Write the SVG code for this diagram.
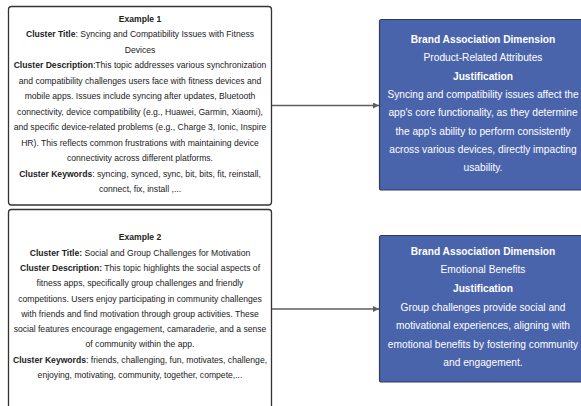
<svg xmlns="http://www.w3.org/2000/svg" width="581" height="406" viewBox="0 0 581 406">
  <style>
    .card { fill: #ffffff; stroke: #333333; stroke-width: 1.3; }
    .dim { fill: #4a64ac; stroke: #2e3b63; stroke-width: 1.2; }
    .t { font-family: "Liberation Sans", Arial, sans-serif; font-size: 8.6px; fill: #222222; text-anchor: middle; }
    .w { font-family: "Liberation Sans", Arial, sans-serif; font-size: 10.2px; fill: #ffffff; text-anchor: middle; }
    .b { font-weight: bold; }
    .link { stroke: #5e5e5e; stroke-width: 1.3; fill: none; }
  </style>
  <defs>
    <marker id="arrow" markerWidth="8" markerHeight="8" refX="6" refY="3" orient="auto" markerUnits="userSpaceOnUse">
      <path d="M0,0 L6,3 L0,6 Z" fill="#5e5e5e"/>
    </marker>
  </defs>

  <g id="connectors">
    <line class="link" x1="272" y1="105.5" x2="379" y2="105.5" marker-end="url(#arrow)"/>
    <line class="link" x1="272" y1="309" x2="379" y2="309" marker-end="url(#arrow)"/>
  </g>

  <g id="example1">
    <rect class="card" x="8.5" y="6.5" width="263" height="198.5" rx="3"/>
    <text class="t b" x="140" y="22">Example 1</text>
    <text class="t" x="140" y="37.45"><tspan class="b">Cluster Title</tspan>: Syncing and Compatibility Issues with Fitness</text>
    <text class="t" x="140" y="52.9">Devices</text>
    <text class="t" x="140" y="68.35"><tspan class="b">Cluster Description</tspan>:This topic addresses various synchronization</text>
    <text class="t" x="140" y="83.8">and compatibility challenges users face with fitness devices and</text>
    <text class="t" x="140" y="99.25">mobile apps. Issues include syncing after updates, Bluetooth</text>
    <text class="t" x="140" y="114.7">connectivity, device compatibility (e.g., Huawei, Garmin, Xiaomi),</text>
    <text class="t" x="140" y="130.15">and specific device-related problems (e.g., Charge 3, Ionic, Inspire</text>
    <text class="t" x="140" y="145.6">HR). This reflects common frustrations with maintaining device</text>
    <text class="t" x="140" y="161.05">connectivity across different platforms.</text>
    <text class="t" x="140" y="176.5"><tspan class="b">Cluster Keywords</tspan>: syncing, synced, sync, bit, bits, fit, reinstall,</text>
    <text class="t" x="140" y="191.95">connect, fix, install ,...</text>
  </g>

  <g id="example2">
    <rect class="card" x="8.5" y="209.5" width="263" height="210" rx="3"/>
    <text class="t b" x="140" y="240.3">Example 2</text>
    <text class="t" x="140" y="255.6"><tspan class="b">Cluster Title:</tspan> Social and Group Challenges for Motivation</text>
    <text class="t" x="140" y="270.9"><tspan class="b">Cluster Description:</tspan> This topic highlights the social aspects of</text>
    <text class="t" x="140" y="286.2">fitness apps, specifically group challenges and friendly</text>
    <text class="t" x="140" y="301.5">competitions. Users enjoy participating in community challenges</text>
    <text class="t" x="140" y="316.8">with friends and find motivation through group activities. These</text>
    <text class="t" x="140" y="332.1">social features encourage engagement, camaraderie, and a sense</text>
    <text class="t" x="140" y="347.4">of community within the app.</text>
    <text class="t" x="140" y="362.7"><tspan class="b">Cluster Keywords</tspan>: friends, challenging, fun, motivates, challenge,</text>
    <text class="t" x="140" y="378">enjoying, motivating, community, together, compete,...</text>
  </g>

  <g id="dimension1">
    <rect class="dim" x="379.5" y="19.5" width="210" height="170.5" rx="2"/>
    <text class="w b" x="483" y="42.9">Brand Association Dimension</text>
    <text class="w" x="483" y="61.3">Product-Related Attributes</text>
    <text class="w b" x="483" y="79.6">Justification</text>
    <text class="w" x="483" y="97.9">Syncing and compatibility issues affect the</text>
    <text class="w" x="483" y="116.3">app's core functionality, as they determine</text>
    <text class="w" x="483" y="134.6">the app's ability to perform consistently</text>
    <text class="w" x="483" y="152.9">across various devices, directly impacting</text>
    <text class="w" x="483" y="171.3">usability.</text>
  </g>

  <g id="dimension2">
    <rect class="dim" x="379.5" y="235.5" width="210" height="146.5" rx="2"/>
    <text class="w b" x="483" y="254.6">Brand Association Dimension</text>
    <text class="w" x="483" y="273.3">Emotional Benefits</text>
    <text class="w b" x="483" y="291.9">Justification</text>
    <text class="w" x="483" y="310.6">Group challenges provide social and</text>
    <text class="w" x="483" y="328.9">motivational experiences, aligning with</text>
    <text class="w" x="483" y="347.6">emotional benefits by fostering community</text>
    <text class="w" x="483" y="365.9">and engagement.</text>
  </g>
</svg>
